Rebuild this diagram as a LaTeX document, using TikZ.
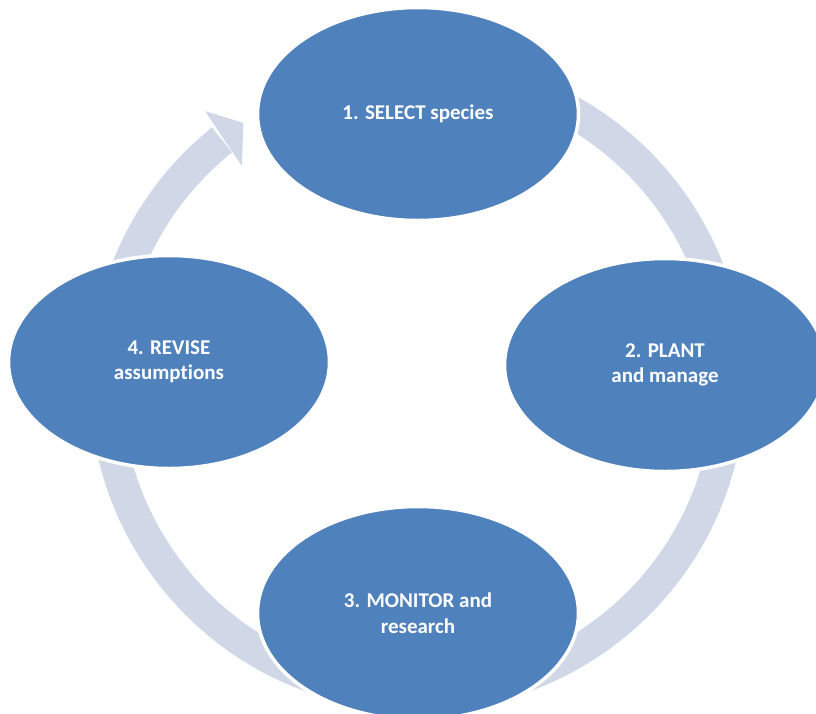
\documentclass[tikz,border=0pt]{standalone}
\usepackage{fontspec}
\setmainfont[Ligatures=NoCommon]{Carlito}
\usetikzlibrary{shapes.geometric}
\definecolor{nodeblue}{HTML}{4F81BD}
\definecolor{ringblue}{HTML}{D0D8E8}
\begin{document}
\begin{tikzpicture}[x=1pt,y=1pt,
  stage/.style={ellipse, fill=nodeblue, draw=white, line width=3.5pt,
    minimum width=321pt, minimum height=213pt, inner sep=0pt,
    text=white, align=center,
    font=\fontsize{21}{25.5}\selectfont\bfseries}]
\useasboundingbox (0,0) rectangle (816,-713);
\clip (0,0) rectangle (816,-713);
% ring of arrows
\begin{scope}[shift={(417.5,-383)}]
  \draw[ringblue, line width=32pt] (128.8:312) arc[start angle=128.8, end angle=460, radius=312];
  \fill[ringblue] (128.0:345) -- (123.8:313) -- (129.0:279) -- cycle;
\end{scope}
% stages
\node[stage] (s1) at (418,-114) {1. SELECT species};
\node[stage] (s2) at (665,-365) {2. PLANT\\and manage};
\node[stage] (s3) at (418,-613) {3. MONITOR and\\research};
\node[stage] (s4) at (169,-362) {4. REVISE\\assumptions};
\end{tikzpicture}
\end{document}
